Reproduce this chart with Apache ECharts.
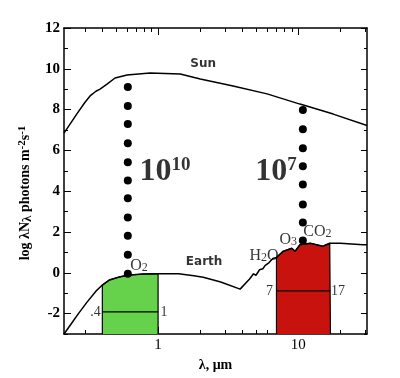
<!DOCTYPE html>
<html><head><meta charset="utf-8">
<script src="https://cdn.jsdelivr.net/npm/echarts@6/dist/echarts.min.js"></script>
<style>html,body{margin:0;padding:0;background:#fff}#c{width:400px;height:378px}</style>
</head><body><div id="c"></div>
<script>
// ---- data ----
const sunX = [0.213, 0.264, 0.30, 0.327, 0.36, 0.385, 0.432, 0.493, 0.60, 0.877, 1.44, 2.0, 3.43, 6.0, 10.3, 17.8, 31];
const sunY = [6.85, 7.8, 8.35, 8.67, 8.9, 9.0, 9.25, 9.55, 9.7, 9.8, 9.75, 9.5, 9.16, 8.77, 8.27, 7.78, 7.22];

const earthX = [0.213, 0.24, 0.27, 0.31, 0.36, 0.40, 0.45, 0.52, 0.6, 0.78, 1.0, 1.4, 1.8, 2.1, 2.8, 3.85, 4.5, 4.8, 5.0, 5.3, 5.6, 5.8, 6.2, 6.6, 7.0, 7.2, 7.8, 9.0, 9.5, 10.3, 12.2, 15.0, 16.8, 20, 29, 31];
const earthY = [-3.0, -2.5, -2.0, -1.45, -0.9, -0.6, -0.35, -0.22, -0.12, -0.06, -0.05, -0.05, -0.15, -0.22, -0.45, -0.8, -0.3, -0.05, -0.12, 0.15, 0.2, 0.35, 0.5, 0.7, 0.75, 0.8, 1.05, 1.2, 1.05, 1.38, 1.45, 1.3, 1.45, 1.45, 1.38, 1.38];

const greenX = [0.4, 0.4, 0.45, 0.52, 0.6, 0.78, 1.0, 1.0];
const greenY = [-3, -0.6, -0.35, -0.22, -0.12, -0.06, -0.05, -3];
const redX = [7, 7, 7.2, 7.8, 9.0, 9.5, 10.3, 12.2, 15.0, 16.8, 17, 17];
const redY = [-3, 0.75, 0.8, 1.05, 1.2, 1.05, 1.38, 1.45, 1.3, 1.45, 1.4, -3];

const greenBarX = [0.4, 1];
const greenBarY = [-1.92, -1.92];
const redBarX = [7, 17];
const redBarY = [-0.89, -0.89];

const dotsLeftX = 0.608;
const dotsLeftY = [-0.05, 0.89, 1.82, 2.71, 3.65, 4.53, 5.42, 6.35, 7.29, 8.18, 9.11];
const dotsRightX = 10.8;
const dotsRightY = [1.58, 2.46, 3.35, 4.33, 5.22, 6.11, 7.04, 7.98];

const xMajorTicks = [1, 10];
const xMinorTicks = [0.3, 0.4, 0.5, 0.6, 0.7, 0.8, 0.9, 2, 3, 4, 5, 6, 7, 8, 9, 20, 30];
const yMajorTicks = [-2, 0, 2, 4, 6, 8, 10, 12];
const yMinorTicks = [-3, -1, 1, 3, 5, 7, 9, 11];

const annText = ['Sun', 'Earth', '{b|10}{bs|10}', '{b|10}{bs|7}', '{o|O}{s|2}', '{o|H}{s|2}{o|O}', '{o|O}{s|3}', '{o|CO}{s|2}'];
const annX = [2.1, 2.13, 1.12, 6.96, 0.73, 5.7, 8.5, 13.7];
const annY = [10.25, 0.54, 4.95, 4.95, 0.45, 0.95, 1.72, 2.12];

const X_MIN = 0.213, X_MAX = 31, Y_MIN = -3, Y_MAX = 12;

// ---- chart ----
const serif = '"Liberation Serif","DejaVu Serif",serif';
const sans = '"DejaVu Sans","Liberation Sans",sans-serif';
const zip = (xs, ys) => xs.map((x, i) => [x, ys[i]]);

function xAx(pos, ticks, len, main) {
  return {
    type: 'log', logBase: 10, min: X_MIN, max: X_MAX, position: pos,
    axisLine: { show: main, onZero: false, lineStyle: { color: '#000', width: 1.5 } },
    axisTick: { show: true, inside: true, length: len, customValues: ticks, lineStyle: { color: '#000', width: 1 } },
    axisLabel: (main && pos === 'bottom') ? { show: true, customValues: xMajorTicks, color: '#000', fontFamily: serif, fontSize: 15, margin: 4 } : { show: false },
    splitLine: { show: false }, minorTick: { show: false }
  };
}
function yAx(pos, ticks, len, main) {
  return {
    type: 'value', min: Y_MIN, max: Y_MAX, position: pos,
    axisLine: { show: main, onZero: false, lineStyle: { color: '#000', width: 1.5 } },
    axisTick: { show: true, inside: true, length: len, customValues: ticks, lineStyle: { color: '#000', width: 1 } },
    axisLabel: (main && pos === 'left') ? { show: true, customValues: yMajorTicks, color: '#000', fontFamily: serif, fontWeight: 'bold', fontSize: 15, margin: 4 } : { show: false },
    splitLine: { show: false }
  };
}

const xAxes = [xAx('bottom', xMajorTicks, 7, true), xAx('bottom', xMinorTicks, 4, false), xAx('top', xMajorTicks, 7, true), xAx('top', xMinorTicks, 4, false)];
xAxes[0].name = 'λ, μm';
xAxes[0].nameLocation = 'middle';
xAxes[0].nameGap = 22;
xAxes[0].nameTextStyle = { color: '#000', fontFamily: serif, fontWeight: 'bold', fontSize: 14 };

const yAxes = [yAx('left', yMajorTicks, 7, true), yAx('left', yMinorTicks, 4, false), yAx('right', yMajorTicks, 6, true), yAx('right', yMinorTicks, 3, false)];
yAxes[0].name = 'log λN{sb|λ} photons m{sp|-2}s{sp|-1}';
yAxes[0].nameLocation = 'middle';
yAxes[0].nameGap = 26;
yAxes[0].nameTextStyle = {
  color: '#000', fontFamily: serif, fontWeight: 'bold', fontSize: 14, padding: [0, 24, 0, 0],
  rich: {
    sb: { fontFamily: serif, fontWeight: 'bold', fontSize: 13, verticalAlign: 'bottom', padding: [4, 0, 0, 0] },
    sp: { fontFamily: serif, fontWeight: 'bold', fontSize: 11, verticalAlign: 'top', padding: [0, 0, 6, 0] }
  }
};

const richLabels = {
  b: { fontFamily: serif, fontWeight: 'bold', fontSize: 32, color: '#000', lineHeight: 32, verticalAlign: 'bottom' },
  bs: { fontFamily: serif, fontWeight: 'bold', fontSize: 19, color: '#000', verticalAlign: 'top', padding: [0, 0, 12, 0] },
  o: { fontFamily: serif, fontSize: 16, color: '#000', lineHeight: 18, verticalAlign: 'bottom' },
  s: { fontFamily: serif, fontSize: 12, color: '#000', verticalAlign: 'bottom', padding: [8, 0, 0, 0] }
};

const annData = annText.map((t, i) => {
  const d = { value: [annX[i], annY[i]] };
  if (i < 2) {
    d.label = { formatter: t, fontFamily: sans, fontWeight: 'bold', fontSize: 12, color: '#000' };
  } else {
    d.label = { formatter: t, rich: richLabels };
  }
  return d;
});

const endLabels = [
  { value: [greenBarX[0], greenBarY[0]], label: { formatter: '.4', position: 'left', distance: 1 } },
  { value: [greenBarX[1], greenBarY[1]], label: { formatter: '1', position: 'right', distance: 2 } },
  { value: [redBarX[0], redBarY[0]], label: { formatter: '7', position: 'left', distance: 3 } },
  { value: [redBarX[1], redBarY[1]], label: { formatter: '17', position: 'right', distance: 0 } }
];

const option = {
  animation: false,
  backgroundColor: '#fff',
  grid: { left: 64, right: 33, top: 28, bottom: 44 },
  xAxis: xAxes,
  yAxis: yAxes,
  series: [
    { type: 'line', data: zip(greenX, greenY), showSymbol: false, symbol: 'none', lineStyle: { color: '#000', width: 1.2 }, areaStyle: { color: '#66d24c', opacity: 1, origin: 'start' }, z: 2 },
    { type: 'line', data: zip(redX, redY), showSymbol: false, symbol: 'none', lineStyle: { color: '#000', width: 1.2 }, areaStyle: { color: '#c8120e', opacity: 1, origin: 'start' }, z: 2 },
    { type: 'line', data: zip(sunX, sunY), symbol: 'none', lineStyle: { color: '#000', width: 1.5 }, z: 3 },
    { type: 'line', data: zip(earthX, earthY), symbol: 'none', lineStyle: { color: '#000', width: 1.5 }, z: 3 },
    { type: 'line', data: zip(greenBarX, greenBarY), symbol: 'none', lineStyle: { color: '#000', width: 1.2 }, z: 3 },
    { type: 'line', data: zip(redBarX, redBarY), symbol: 'none', lineStyle: { color: '#000', width: 1.2 }, z: 3 },
    { type: 'scatter', data: dotsLeftY.map(y => [dotsLeftX, y]), symbolSize: 8, itemStyle: { color: '#000', opacity: 1 }, z: 4 },
    { type: 'scatter', data: dotsRightY.map(y => [dotsRightX, y]), symbolSize: 8, itemStyle: { color: '#000', opacity: 1 }, z: 4 },
    { type: 'scatter', data: endLabels, symbolSize: 1, itemStyle: { color: 'rgba(0,0,0,0)' }, label: { show: true, color: '#000', fontFamily: serif, fontSize: 14 }, z: 5 },
    { type: 'scatter', data: annData, symbolSize: 1, itemStyle: { color: 'rgba(0,0,0,0)' }, label: { show: true, position: 'inside', color: '#000' }, z: 5 }
  ]
};
const chart = echarts.init(document.getElementById('c'), null, { renderer: 'canvas' });
chart.setOption(option);
</script>
</body></html>
